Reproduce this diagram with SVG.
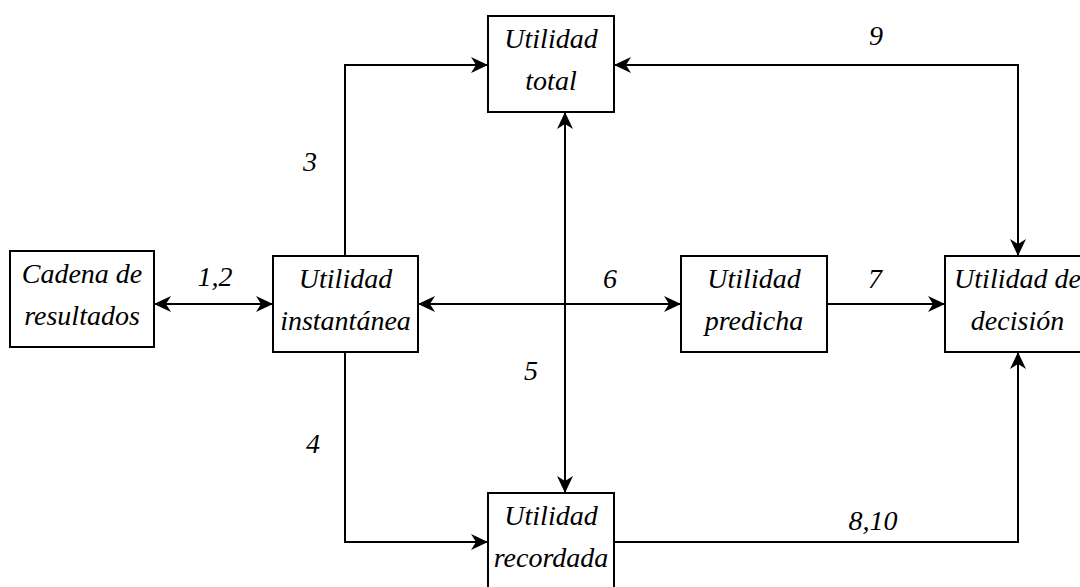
<svg xmlns="http://www.w3.org/2000/svg" width="1080" height="587" viewBox="0 0 1080 587">
<defs>
<marker id="ah" markerUnits="userSpaceOnUse" markerWidth="18" markerHeight="16" refX="17" refY="8" orient="auto-start-reverse" viewBox="0 0 18 16">
<path d="M0,0 L17,8 L0,16 L5,8 z" fill="#000"/>
</marker>
</defs>
<rect width="1080" height="587" fill="#fff"/>
<g id="connectors" fill="none" stroke="#000" stroke-width="2">
<line x1="154" y1="304" x2="273" y2="304" marker-start="url(#ah)" marker-end="url(#ah)"/>
<polyline points="345,256 345,65 488,65" marker-end="url(#ah)"/>
<polyline points="345,352 345,542 488,542" marker-end="url(#ah)"/>
<line x1="565" y1="112" x2="565" y2="493" marker-start="url(#ah)" marker-end="url(#ah)"/>
<line x1="418" y1="304" x2="681" y2="304" marker-start="url(#ah)" marker-end="url(#ah)"/>
<line x1="827" y1="304" x2="945" y2="304" marker-end="url(#ah)"/>
<polyline points="614,65 1018,65 1018,256" marker-start="url(#ah)" marker-end="url(#ah)"/>
<polyline points="614,542 1018,542 1018,352" marker-end="url(#ah)"/>
</g>
<g id="labels" text-anchor="middle" fill="#000">
<text x="215" y="286" font-family="Times New Roman" font-style="italic" font-size="28">1,2</text>
<text x="310" y="171" font-family="Times New Roman" font-style="italic" font-size="28">3</text>
<text x="313" y="453" font-family="Times New Roman" font-style="italic" font-size="28">4</text>
<text x="531" y="380" font-family="Times New Roman" font-style="italic" font-size="28">5</text>
<text x="610" y="288" font-family="Times New Roman" font-style="italic" font-size="28">6</text>
<text x="875" y="288" font-family="Times New Roman" font-style="italic" font-size="28">7</text>
<text x="876" y="45" font-family="Times New Roman" font-style="italic" font-size="28">9</text>
<text x="873" y="530" font-family="Times New Roman" font-style="italic" font-size="28">8,10</text>
</g>
<g id="cadena" text-anchor="middle">
<rect x="10" y="251" width="144" height="96" fill="#fff" stroke="#000" stroke-width="2"/>
<text x="82" y="283" font-family="Times New Roman" font-style="italic" font-size="28">Cadena de</text>
<text x="82" y="325" font-family="Times New Roman" font-style="italic" font-size="28">resultados</text>
</g>
<g id="instantanea" text-anchor="middle">
<rect x="273" y="256" width="145" height="96" fill="#fff" stroke="#000" stroke-width="2"/>
<text x="345.5" y="288" font-family="Times New Roman" font-style="italic" font-size="28">Utilidad</text>
<text x="345.5" y="330" font-family="Times New Roman" font-style="italic" font-size="28">instantánea</text>
</g>
<g id="total" text-anchor="middle">
<rect x="488" y="16" width="126" height="96" fill="#fff" stroke="#000" stroke-width="2"/>
<text x="551" y="48" font-family="Times New Roman" font-style="italic" font-size="28">Utilidad</text>
<text x="551" y="90" font-family="Times New Roman" font-style="italic" font-size="28">total</text>
</g>
<g id="predicha" text-anchor="middle">
<rect x="681" y="256" width="146" height="96" fill="#fff" stroke="#000" stroke-width="2"/>
<text x="754" y="288" font-family="Times New Roman" font-style="italic" font-size="28">Utilidad</text>
<text x="754" y="330" font-family="Times New Roman" font-style="italic" font-size="28">predicha</text>
</g>
<g id="decision" text-anchor="middle">
<rect x="945" y="256" width="145" height="96" fill="#fff" stroke="#000" stroke-width="2"/>
<text x="1017.5" y="288" font-family="Times New Roman" font-style="italic" font-size="28">Utilidad de</text>
<text x="1017.5" y="330" font-family="Times New Roman" font-style="italic" font-size="28">decisión</text>
</g>
<g id="recordada" text-anchor="middle">
<rect x="488" y="493" width="126" height="96" fill="#fff" stroke="#000" stroke-width="2"/>
<text x="551" y="525" font-family="Times New Roman" font-style="italic" font-size="28">Utilidad</text>
<text x="551" y="567" font-family="Times New Roman" font-style="italic" font-size="28">recordada</text>
</g>
</svg>
